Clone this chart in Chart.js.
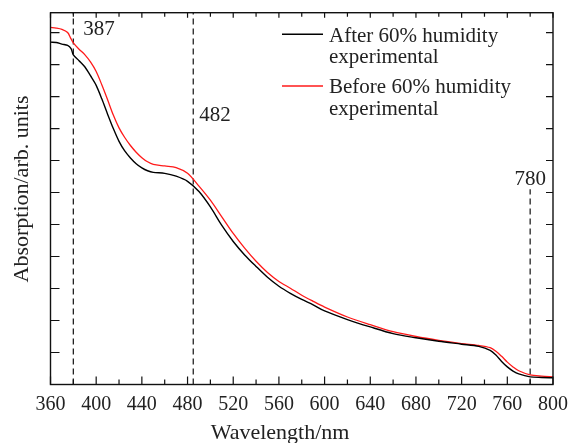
<!DOCTYPE html>
<html>
<head>
<meta charset="utf-8">
<script src="https://cdn.jsdelivr.net/npm/chart.js@4.4.1/dist/chart.umd.min.js"></script>
<style>
  html, body { margin: 0; padding: 0; background: #fff; }
  #wrap { width: 579px; height: 443px; position: relative; }
</style>
</head>
<body>
<div id="wrap"><canvas id="chart"></canvas></div>
<script>
// wavelength grid (nm) and absorption (arb. units)
const wavelengths = [360,365,370,375,378,380,385,390,395,400,405,410,415,420,425,430,435,440,445,450,
  460,470,480,490,500,510,520,530,540,550,560,570,580,590,600,620,640,660,680,700,
  720,735,745,750,755,760,765,770,780,790,800];
const afterHumidity = [10.70,10.69,10.64,10.60,10.50,10.30,10.12,9.93,9.65,9.35,8.92,8.45,8.00,7.60,7.30,7.08,6.90,6.77,6.68,6.63,
  6.60,6.51,6.35,6.03,5.55,4.97,4.47,4.05,3.69,3.35,3.07,2.85,2.66,2.49,2.30,2.03,1.80,1.59,1.46,1.35,
  1.26,1.19,1.07,0.92,0.72,0.55,0.42,0.33,0.24,0.22,0.21];
const beforeHumidity = [11.16,11.14,11.10,11.00,10.80,10.68,10.48,10.31,10.08,9.78,9.36,8.90,8.42,8.02,7.72,7.47,7.26,7.09,6.96,6.88,
  6.83,6.78,6.60,6.20,5.76,5.24,4.72,4.26,3.85,3.50,3.22,3.01,2.79,2.60,2.42,2.11,1.87,1.65,1.50,1.38,
  1.28,1.22,1.15,1.04,0.88,0.70,0.55,0.43,0.30,0.26,0.24];
const seriesNames = [['After 60% humidity', 'experimental'], ['Before 60% humidity', 'experimental']];

// dashed marker lines
const markerWavelengths = [380, 485, 780];
const markerTops = [11.62, 11.62, 6.1];
const markerLabels = ['387', '482', '780'];

const X_MIN = 360, X_MAX = 800, Y_MIN = 0, Y_MAX = 11.62;
const FONT = '"Liberation Serif", "DejaVu Serif", serif';

const toPoints = ys => wavelengths.map((w, i) => ({x: w, y: ys[i]}));

const datasets = [
  {label: seriesNames[0].join(' '), data: toPoints(afterHumidity), borderColor: '#000', borderWidth: 1.4,
   pointRadius: 0, tension: 0.3, fill: false},
  {label: seriesNames[1].join(' '), data: toPoints(beforeHumidity), borderColor: '#ff1a1a', borderWidth: 1.3,
   pointRadius: 0, tension: 0.3, fill: false}
];
markerWavelengths.forEach((w, i) => {
  datasets.push({label: 'marker' + i, data: [{x: w, y: Y_MIN}, {x: w, y: markerTops[i]}],
    borderColor: '#222', borderWidth: 1.3, borderDash: [6, 4], pointRadius: 0, fill: false});
});

const decorations = {
  id: 'decorations',
  afterDraw(chart) {
    const {ctx, chartArea: a, scales: {x, y}} = chart;
    ctx.save();
    // frame
    ctx.strokeStyle = '#111';
    ctx.lineWidth = 1.4;
    ctx.strokeRect(a.left, a.top, a.right - a.left, a.bottom - a.top);
    // inward ticks
    ctx.lineWidth = 1.2;
    ctx.beginPath();
    for (let v = X_MIN; v <= X_MAX; v += 20) {
      const px = x.getPixelForValue(v);
      const major = (v - X_MIN) % 40 === 0;
      ctx.moveTo(px, a.bottom); ctx.lineTo(px, a.bottom - (major ? 8 : 5));
      ctx.moveTo(px, a.top); ctx.lineTo(px, a.top + (major ? 5 : 4));
    }
    for (let v = 1; v <= 11; v++) {
      const py = y.getPixelForValue(v);
      ctx.moveTo(a.left, py); ctx.lineTo(a.left + 9, py);
      ctx.moveTo(a.right, py); ctx.lineTo(a.right - 7, py);
    }
    ctx.stroke();

    // marker labels
    ctx.fillStyle = '#222';
    ctx.font = '21px ' + FONT;
    ctx.textBaseline = 'middle';
    ctx.textAlign = 'left';
    ctx.fillText(markerLabels[0], x.getPixelForValue(markerWavelengths[0]) + 10, 29);
    ctx.fillText(markerLabels[1], x.getPixelForValue(markerWavelengths[1]) + 6, 115);
    ctx.textAlign = 'center';
    ctx.fillText(markerLabels[2], x.getPixelForValue(markerWavelengths[2]), 179);

    // legend
    const colors = [datasets[0].borderColor, datasets[1].borderColor];
    const baselines = [41.5, 93.3];
    ctx.textAlign = 'left';
    ctx.textBaseline = 'alphabetic';
    seriesNames.forEach((lines, i) => {
      ctx.strokeStyle = colors[i];
      ctx.lineWidth = 1.4;
      ctx.beginPath();
      ctx.moveTo(282, baselines[i] - 7.3);
      ctx.lineTo(323, baselines[i] - 7.3);
      ctx.stroke();
      lines.forEach((t, j) => ctx.fillText(t, 329, baselines[i] + j * 21.5));
    });

    // axis titles
    ctx.font = '22px ' + FONT;
    ctx.textAlign = 'center';
    ctx.textBaseline = 'middle';
    ctx.fillText('Wavelength/nm', 280, 433);
    ctx.translate(22, 189);
    ctx.rotate(-Math.PI / 2);
    ctx.fillText('Absorption/arb. units', 0, 0);
    ctx.restore();
  }
};

new Chart(document.getElementById('chart'), {
  type: 'line',
  data: {datasets: datasets},
  options: {
    responsive: true,
    maintainAspectRatio: false,
    animation: false,
    events: [],
    layout: {padding: {left: 50.5, right: 26, top: 12.7, bottom: 18.5}},
    plugins: {legend: {display: false}, tooltip: {enabled: false}},
    scales: {
      x: {
        type: 'linear', min: X_MIN, max: X_MAX,
        grid: {display: false, drawTicks: false},
        border: {display: false},
        ticks: {stepSize: 40, autoSkip: false, maxRotation: 0, padding: 8, color: '#222',
                font: {family: FONT, size: 20}}
      },
      y: {
        type: 'linear', min: Y_MIN, max: Y_MAX, display: false
      }
    }
  },
  plugins: [decorations]
});
</script>
</body>
</html>
